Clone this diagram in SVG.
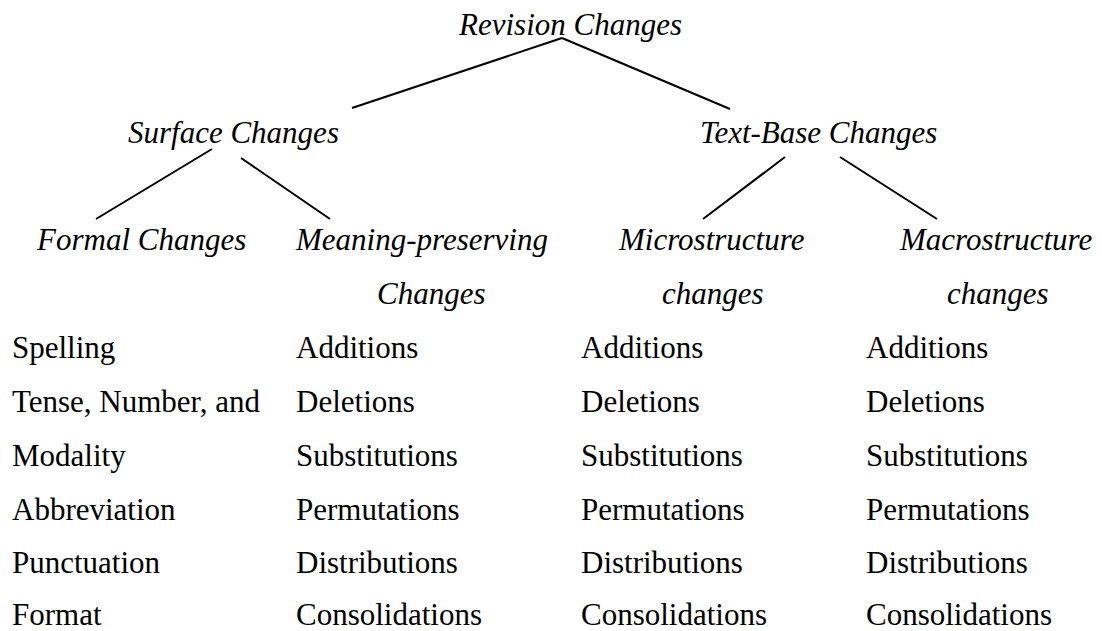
<svg xmlns="http://www.w3.org/2000/svg" width="1102" height="631" viewBox="0 0 1102 631">
  <style>
    text { font-family: "Liberation Serif", "Times New Roman", serif; font-size: 31px; fill: #000; }
    .head { font-style: italic; }
    .edge { stroke: #000; stroke-width: 2; fill: none; }
  </style>
  <rect width="1102" height="631" fill="#fff"/>

  <!-- tree connectors -->
  <g id="connectors">
    <line class="edge" x1="562" y1="38" x2="352" y2="108"/>
    <line class="edge" x1="562" y1="38" x2="730" y2="109"/>
    <line class="edge" x1="212" y1="149" x2="96" y2="219"/>
    <line class="edge" x1="241" y1="158" x2="330" y2="219"/>
    <line class="edge" x1="785" y1="157" x2="703" y2="219"/>
    <line class="edge" x1="840" y1="157" x2="937" y2="219"/>
  </g>

  <!-- category nodes -->
  <g id="revision-changes">
    <text class="head" x="459" y="35">Revision Changes</text>
  </g>
  <g id="surface-changes">
    <text class="head" x="128" y="143">Surface Changes</text>
  </g>
  <g id="text-base-changes">
    <text class="head" x="700" y="143">Text-Base Changes</text>
  </g>

  <g id="formal-changes">
    <text class="head" x="37" y="250">Formal Changes</text>
    <text x="12" y="358">Spelling</text>
    <text x="12" y="412">Tense, Number, and</text>
    <text x="12" y="466">Modality</text>
    <text x="12" y="520">Abbreviation</text>
    <text x="12" y="573">Punctuation</text>
    <text x="12" y="625">Format</text>
  </g>

  <g id="meaning-preserving-changes">
    <text class="head" x="296" y="250">Meaning-preserving</text>
    <text class="head" x="377" y="304">Changes</text>
    <text x="296" y="358">Additions</text>
    <text x="296" y="412">Deletions</text>
    <text x="296" y="466">Substitutions</text>
    <text x="296" y="520">Permutations</text>
    <text x="296" y="573">Distributions</text>
    <text x="296" y="625">Consolidations</text>
  </g>

  <g id="microstructure-changes">
    <text class="head" x="619" y="250">Microstructure</text>
    <text class="head" x="662" y="304">changes</text>
    <text x="581" y="358">Additions</text>
    <text x="581" y="412">Deletions</text>
    <text x="581" y="466">Substitutions</text>
    <text x="581" y="520">Permutations</text>
    <text x="581" y="573">Distributions</text>
    <text x="581" y="625">Consolidations</text>
  </g>

  <g id="macrostructure-changes">
    <text class="head" x="900" y="250">Macrostructure</text>
    <text class="head" x="947" y="304">changes</text>
    <text x="866" y="358">Additions</text>
    <text x="866" y="412">Deletions</text>
    <text x="866" y="466">Substitutions</text>
    <text x="866" y="520">Permutations</text>
    <text x="866" y="573">Distributions</text>
    <text x="866" y="625">Consolidations</text>
  </g>
</svg>
